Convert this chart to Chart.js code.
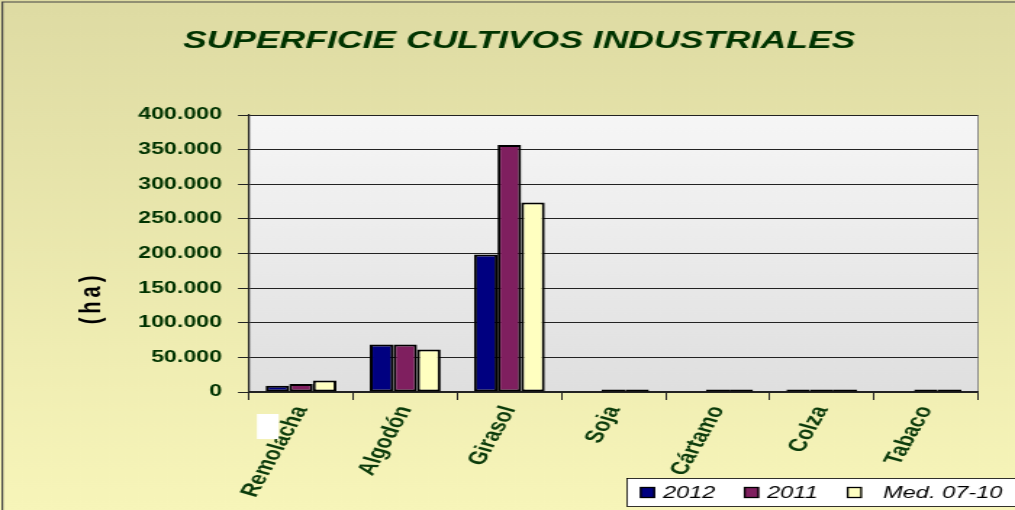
<!DOCTYPE html>
<html><head><meta charset="utf-8">
<script src="https://cdn.jsdelivr.net/npm/chart.js@4/dist/chart.umd.min.js"></script>
<style>
html,body{margin:0;padding:0;background:#F7F5B9;overflow:hidden;width:1015px;height:510px}
#wrap{width:700px;height:510px;transform:scaleX(1.45);transform-origin:0 0}
canvas{display:block}
</style>
</head><body><div id="wrap"><canvas id="c" width="700" height="510"></canvas></div>
<script>
const categories = ['Remolacha','Algodón','Girasol','Soja','Cártamo','Colza','Tabaco'];
const seriesNames = ['2012','2011','Med. 07-10'];
const values2012 = [9000, 68500, 198500, null, null, 1300, null];
const values2011 = [11500, 68500, 356500, 600, 2500, 1500, 600];
const valuesMed = [16500, 61500, 273500, 600, 800, 1500, 600];
const yTicks = [0, 50000, 100000, 150000, 200000, 250000, 300000, 350000, 400000];
const titleText = 'SUPERFICIE CULTIVOS INDUSTRIALES';
const yTitle = '(ha)';
const colors = ['#000080', '#7F1F5F', '#FFFFC0'];

function fmt(v){ return String(v).replace(/\B(?=(\d{3})+(?!\d))/g, '.'); }

const decor = {
  id: 'decor',
  beforeDraw(chart){
    const ctx = chart.ctx, W = chart.width, H = chart.height, a = chart.chartArea;
    ctx.save();
    const g = ctx.createLinearGradient(0, 0, 0, H);
    g.addColorStop(0, '#DEDBA3'); g.addColorStop(1, '#F7F5B9');
    ctx.fillStyle = g; ctx.fillRect(0, 0, W, H);
    const p = ctx.createLinearGradient(0, a.top, 0, a.bottom);
    p.addColorStop(0, '#F6F6F6'); p.addColorStop(1, '#DFDFDF');
    ctx.fillStyle = p; ctx.fillRect(a.left, a.top, a.right - a.left, a.bottom - a.top);
    ctx.strokeStyle = '#8a8a8a'; ctx.lineWidth = 1;
    ctx.strokeRect(a.left, a.top + 0.5, a.right - a.left, a.bottom - a.top);
    ctx.strokeStyle = '#444'; ctx.lineWidth = 1.2;
    ctx.beginPath();
    ctx.moveTo(1.6, H); ctx.lineTo(1.6, 2); ctx.lineTo(W, 2);
    ctx.stroke();
    ctx.restore();
  },
  afterDraw(chart){
    const ctx = chart.ctx, a = chart.chartArea;
    ctx.save();
    ctx.translate(63.4, 300); ctx.rotate(-Math.PI / 2);
    ctx.font = 'bold 20px "Liberation Sans", Arial, sans-serif';
    ctx.letterSpacing = '4px';
    ctx.fillStyle = '#000'; ctx.textAlign = 'center'; ctx.textBaseline = 'middle';
    ctx.fillText(yTitle, 2, 0);
    ctx.restore();
    ctx.save();
    ctx.fillStyle = '#fff';
    ctx.fillRect(a.left + 5.5, a.bottom + 22, 15, 25);
    ctx.restore();
    ctx.save();
    const lx = 432.5, ly = 478.5, lw = 300, lh = 28;
    ctx.fillStyle = '#fff'; ctx.fillRect(lx, ly, lw, lh);
    ctx.strokeStyle = '#000'; ctx.lineWidth = 0.8;
    ctx.strokeRect(lx, ly, lw, lh);
    const xs = [441.4, 513.1, 584.1];
    const tx = [457.2, 529, 609];
    ctx.font = 'italic 16.3px "Liberation Sans", Arial, sans-serif';
    ctx.textBaseline = 'middle'; ctx.textAlign = 'left';
    chart.data.datasets.forEach((ds, i) => {
      ctx.fillStyle = ds.backgroundColor;
      ctx.fillRect(xs[i], ly + 8.5, 10.3, 11);
      ctx.strokeStyle = '#000'; ctx.lineWidth = 1.3;
      ctx.strokeRect(xs[i] + 0.5, ly + 9, 9.3, 10);
      ctx.fillStyle = '#000';
      ctx.fillText(ds.label, tx[i], ly + 14.5);
    });
    ctx.restore();
  }
};

const series = [values2012, values2011, valuesMed];
new Chart(document.getElementById('c'), {
  type: 'bar',
  data: {
    labels: categories,
    datasets: series.map((vals, i) => ({
      label: seriesNames[i],
      data: vals,
      backgroundColor: colors[i],
      borderColor: '#000',
      borderWidth: 2,
      borderSkipped: false,
      minBarLength: 2.5,
      categoryPercentage: 0.68,
      barPercentage: 1.0
    }))
  },
  options: {
    responsive: false,
    animation: false,
    devicePixelRatio: 1,
    layout: { padding: { top: 0, right: 25.5, bottom: 0, left: 41.5 } },
    plugins: {
      legend: { display: false },
      tooltip: { enabled: false },
      title: {
        display: true,
        text: titleText,
        color: '#003300',
        font: { family: '"Liberation Sans", Arial, sans-serif', size: 24.5, weight: 'bold', style: 'italic' },
        padding: { top: 27, bottom: 58.6 }
      }
    },
    scales: {
      x: {
        grid: { display: true, drawOnChartArea: false, drawTicks: true, tickLength: 8, color: '#222', offset: true },
        border: { display: true, color: '#222', width: 1.5 },
        ticks: {
          autoSkip: false, minRotation: 68, maxRotation: 68, padding: 3,
          color: '#0B3B0B',
          font: { family: '"Liberation Sans", Arial, sans-serif', size: 18, weight: 'bold' }
        },
        afterFit(s){ s.height = 118; }
      },
      y: {
        min: 0, max: 400000,
        afterBuildTicks(s){ s.ticks = yTicks.map(v => ({ value: v })); },
        grid: { color: '#222', lineWidth: 1, tickLength: 7.6, drawTicks: true },
        border: { display: true, color: '#222', width: 1.2 },
        ticks: {
          padding: 11,
          color: '#003300',
          font: { family: '"Liberation Sans", Arial, sans-serif', size: 16, weight: 'bold' },
          callback: (v) => fmt(v)
        },
        afterFit(s){ s.width = 130.2; }
      }
    }
  },
  plugins: [decor]
});
</script></body></html>
